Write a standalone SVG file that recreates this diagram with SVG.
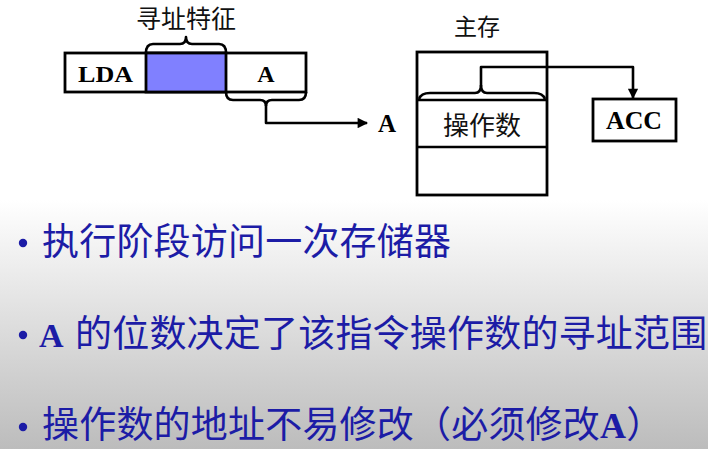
<svg xmlns="http://www.w3.org/2000/svg" width="708" height="449" viewBox="0 0 708 449">
<style>
.ln{fill:none;stroke:#000;stroke-width:2.6;stroke-linejoin:round}
.box{fill:#fff;stroke:#000;stroke-width:2.8}
.lat{font-family:"Liberation Serif","Times New Roman",serif;font-weight:bold;fill:#000}
.cjk{font-family:"Noto Sans CJK SC",sans-serif;fill:#111}
.bl{font-family:"Noto Sans CJK SC",sans-serif;font-size:37px;letter-spacing:0.2px;fill:#1c1ca6}
.blA{font-family:"Liberation Serif","Times New Roman",serif;font-weight:bold}
.dot{fill:#1c1ca6}
</style>
<defs>
<linearGradient id="bg" x1="0" y1="200" x2="0" y2="449" gradientUnits="userSpaceOnUse">
<stop offset="0" stop-color="#ffffff"/>
<stop offset="1" stop-color="#bcbcbc"/>
</linearGradient>
<marker id="ah" viewBox="0 0 10 10" refX="9" refY="5" markerWidth="4.5" markerHeight="4" orient="auto" markerUnits="strokeWidth">
<path d="M0,0 L10,5 L0,10 z" fill="#000"/>
</marker>
</defs>
<rect x="0" y="0" width="708" height="449" fill="url(#bg)"/>

<g id="instruction">
<rect class="box" x="65" y="53" width="241" height="39"/>
<rect x="146" y="53" width="80" height="39" fill="#8080ff" stroke="#000" stroke-width="2.8"/>
<text class="lat" x="78" y="82" font-size="24" textLength="55" lengthAdjust="spacingAndGlyphs">LDA</text>
<text class="lat" x="266" y="82" font-size="24" text-anchor="middle">A</text>
</g>

<g id="label-feature">
<path class="ln" d="M146,53 Q146,44 153,44 L180,44 Q186,44 186,37 Q186,44 192,44 L219,44 Q226,44 226,53"/>
<text class="cjk" x="186" y="28" font-size="25" text-anchor="middle">寻址特征</text>
</g>

<g id="target-A">
<text class="lat" x="378" y="132" font-size="25">A</text>
</g>

<g id="memory">
<text class="cjk" x="477" y="35" font-size="23" text-anchor="middle">主存</text>
<rect class="box" x="417" y="52" width="130" height="143"/>
<line class="ln" x1="417" y1="100" x2="547" y2="100"/>
<line class="ln" x1="417" y1="147" x2="547" y2="147"/>
<text class="cjk" x="482" y="135" font-size="26" text-anchor="middle">操作数</text>
</g>

<g id="acc">
<rect class="box" x="593" y="99" width="83" height="42"/>
<text class="lat" x="634" y="129" font-size="25" text-anchor="middle" textLength="56" lengthAdjust="spacingAndGlyphs">ACC</text>
</g>

<g id="connectors">
<path class="ln" d="M226,92 Q226,100 233,100 L260,100 Q266,100 266,106 L266,123 L367,123" marker-end="url(#ah)"/>
<path class="ln" d="M306,92 Q306,100 299,100 L272,100 Q266,100 266,106"/>
<path class="ln" d="M419,99 Q421,93 430,93 L475,93 Q481,93 481,85 L481,67 L633,67 L633,98" marker-end="url(#ah)"/>
<path class="ln" d="M545,99 Q543,93 534,93 L487,93 Q481,93 481,85"/>
</g>

<g id="bullets">
<circle class="dot" cx="23" cy="243" r="4.2"/>
<text class="bl" x="42" y="255">执行阶段访问一次存储器</text>
<circle class="dot" cx="23" cy="335" r="4.2"/>
<text class="bl" y="347"><tspan class="blA" x="39" font-size="34">A</tspan><tspan x="75">的位数决定了该指令操作数的寻址范围</tspan></text>
<circle class="dot" cx="23" cy="427" r="4.2"/>
<text class="bl" y="438"><tspan x="42">操作数的地址不易修改（必须修改</tspan><tspan class="blA" font-size="36">A</tspan><tspan>）</tspan></text>
</g>
</svg>
